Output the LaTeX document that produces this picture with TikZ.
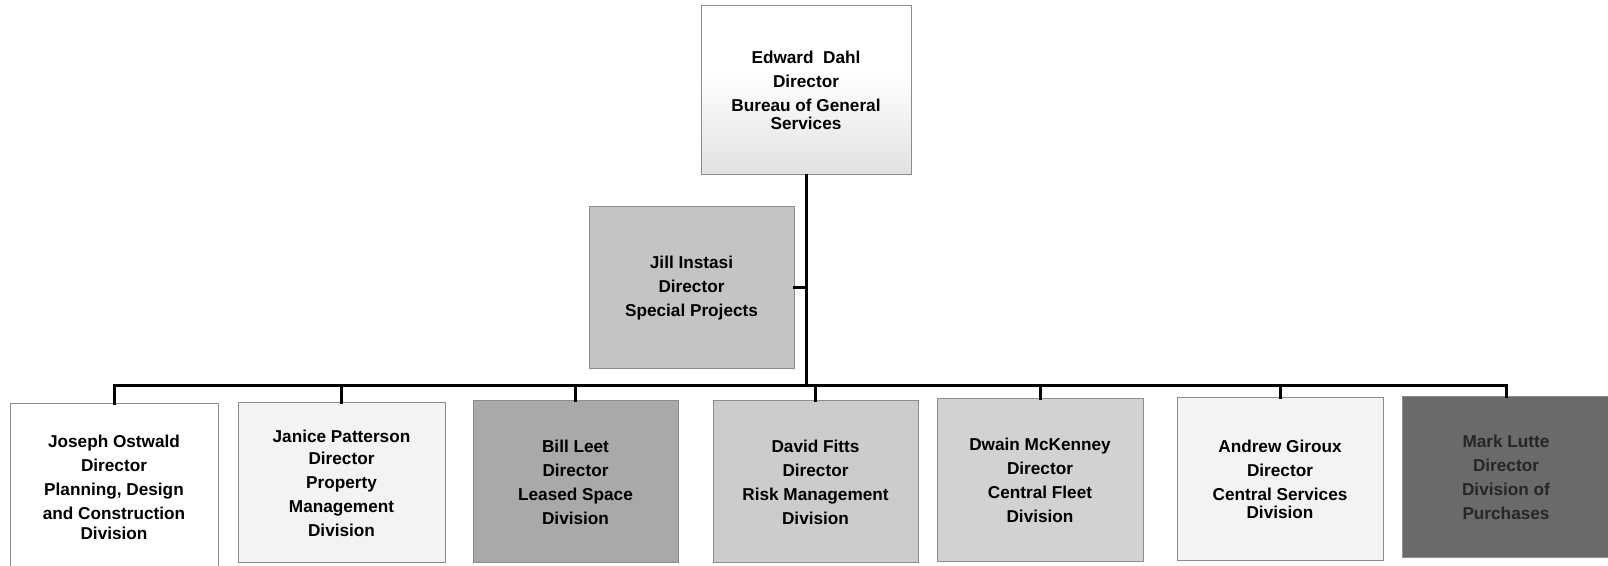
\documentclass[tikz,border=0pt]{standalone}
\usepackage{fontspec}
\setmainfont{Liberation Sans}
\definecolor{dahlgray}{HTML}{D4D4D4}
\definecolor{jillfill}{HTML}{C4C4C4}
\definecolor{palefill}{HTML}{F3F3F3}
\definecolor{billfill}{HTML}{A9A9A9}
\definecolor{davidfill}{HTML}{CCCCCC}
\definecolor{dwainfill}{HTML}{D2D2D2}
\definecolor{markfill}{HTML}{6A6A6A}
\definecolor{marktext}{HTML}{262626}
\definecolor{edge}{HTML}{8C8C8C}
\pgfdeclareverticalshading{dahlshade}{100bp}{color(0bp)=(dahlgray); color(25bp)=(dahlgray!70); color(55bp)=(white); color(100bp)=(white)}
\begin{document}
\begin{tikzpicture}[x=0.5pt,y=-0.5pt,
  orgbox/.style={draw=edge, line width=0.5pt, inner sep=2pt, align=center,
    font=\bfseries\fontsize{8.6}{12}\selectfont},
  link/.style={draw=black, line width=1.5pt, line cap=rect}]
\useasboundingbox (0,0) rectangle (1608,566);

% head of the bureau and staff office
\node[orgbox, shading=dahlshade, minimum width=105pt, minimum height=84.5pt] (dahl) at (806,90.5)
  {Edward\ \ Dahl\\Director\\Bureau of General\\[-3pt]Services};
\node[orgbox, fill=jillfill, minimum width=102.5pt, minimum height=81pt] (jill) at (691.5,288)
  {Jill Instasi\\Director\\Special Projects};

% division directors
\node[orgbox, fill=white, minimum width=104pt, minimum height=83pt] (joseph) at (114,487)
  {Joseph Ostwald\\Director\\Planning, Design\\and Construction\\[-2pt]Division};
\node[orgbox, fill=palefill, minimum width=103.5pt, minimum height=80pt] (janice) at (341.5,483)
  {Janice Patterson\\[-1pt]Director\\Property\\Management\\Division};
\node[orgbox, fill=billfill, minimum width=102.5pt, minimum height=81pt] (bill) at (575.5,482)
  {Bill Leet\\Director\\Leased Space\\Division};
\node[orgbox, fill=davidfill, minimum width=102.5pt, minimum height=81pt] (david) at (815.5,482)
  {David Fitts\\Director\\Risk Management\\Division};
\node[orgbox, fill=dwainfill, minimum width=103pt, minimum height=81.5pt] (dwain) at (1040,480.5)
  {Dwain McKenney\\Director\\Central Fleet\\Division};
\node[orgbox, fill=palefill, minimum width=103pt, minimum height=81.5pt] (andrew) at (1280,479.5)
  {Andrew Giroux\\Director\\Central Services\\[-3pt]Division};
\node[orgbox, fill=markfill, text=marktext, minimum width=104pt, minimum height=80.5pt] (mark) at (1506,477.5)
  {Mark Lutte\\Director\\Division of\\Purchases};

% reporting lines
\coordinate (hub) at (806,386);
\draw[link] (dahl.south) -- (hub);
\draw[link] (jill.east) -- (jill.east -| hub);
\draw[link] (joseph.north |- hub) -- (mark.north |- hub);
\foreach \n in {joseph,janice,bill,david,dwain,andrew,mark}
  \draw[link] (\n.north |- hub) -- (\n.north);
\end{tikzpicture}
\end{document}
